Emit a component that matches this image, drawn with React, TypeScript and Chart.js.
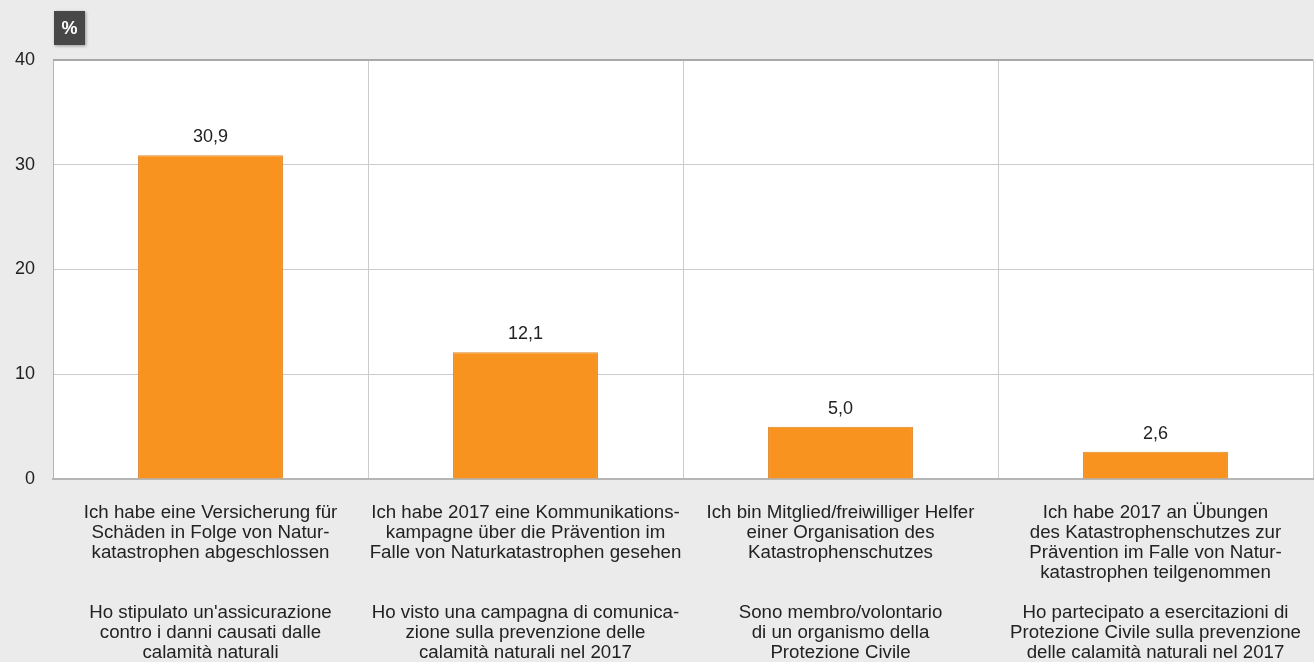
import React, { useEffect, useRef } from "react";
import { Chart, registerables } from "chart.js";

Chart.register(...registerables);

const categories: string[][] = [
  [
    "Ich habe eine Versicherung für",
    "Schäden in Folge von Natur-",
    "katastrophen abgeschlossen",
    "",
    "",
    "Ho stipulato un'assicurazione",
    "contro i danni causati dalle",
    "calamità naturali",
  ],
  [
    "Ich habe 2017 eine Kommunikations-",
    "kampagne über die Prävention im",
    "Falle von Naturkatastrophen gesehen",
    "",
    "",
    "Ho visto una campagna di comunica-",
    "zione sulla prevenzione delle",
    "calamità naturali nel 2017",
  ],
  [
    "Ich bin Mitglied/freiwilliger Helfer",
    "einer Organisation des",
    "Katastrophenschutzes",
    "",
    "",
    "Sono membro/volontario",
    "di un organismo della",
    "Protezione Civile",
  ],
  [
    "Ich habe 2017 an Übungen",
    "des Katastrophenschutzes zur",
    "Prävention im Falle von Natur-",
    "katastrophen teilgenommen",
    "",
    "Ho partecipato a esercitazioni di",
    "Protezione Civile sulla prevenzione",
    "delle calamità naturali nel 2017",
  ],
];

const values: number[] = [30.9, 12.1, 5.0, 2.6];
const yTicks: number[] = [0, 10, 20, 30, 40];
const unitLabel = "%";

const FONT = "'Liberation Sans', Arial, sans-serif";

const valueLabels = {
  id: "valueLabels",
  afterDatasetsDraw(chart: any) {
    const ctx = chart.ctx;
    const meta = chart.getDatasetMeta(0);
    ctx.save();
    ctx.font = `18px ${FONT}`;
    ctx.fillStyle = "#222";
    ctx.textAlign = "center";
    ctx.textBaseline = "middle";
    meta.data.forEach((bar: any, i: number) => {
      const txt = values[i].toFixed(1).replace(".", ",");
      ctx.fillText(txt, bar.x, bar.y - 18);
    });
    ctx.restore();
  },
};

const unitBadge = {
  id: "unitBadge",
  afterDraw(chart: any) {
    const ctx = chart.ctx;
    const left = chart.chartArea.left;
    ctx.save();
    ctx.shadowColor = "rgba(0,0,0,0.35)";
    ctx.shadowBlur = 3;
    ctx.shadowOffsetX = 1;
    ctx.shadowOffsetY = 1;
    ctx.fillStyle = "#474747";
    ctx.fillRect(left + 1, 11, 31, 34);
    ctx.shadowColor = "transparent";
    ctx.fillStyle = "#ffffff";
    ctx.font = `bold 18px ${FONT}`;
    ctx.textAlign = "center";
    ctx.textBaseline = "middle";
    ctx.fillText(unitLabel, left + 16.5, 29);
    ctx.restore();
  },
};

const plotBg = {
  id: "plotBg",
  beforeDraw(chart: any) {
    const { ctx, chartArea } = chart;
    ctx.save();
    ctx.fillStyle = "#ebebeb";
    ctx.fillRect(0, 0, chart.width, chart.height);
    ctx.fillStyle = "#ffffff";
    ctx.fillRect(chartArea.left, chartArea.top, chartArea.right - chartArea.left, chartArea.bottom - chartArea.top);
    ctx.restore();
  },
  afterDraw(chart: any) {
    const { ctx, chartArea } = chart;
    ctx.save();
    ctx.strokeStyle = "#a8a8a8";
    ctx.lineWidth = 2;
    ctx.beginPath();
    ctx.moveTo(chartArea.left, chartArea.top);
    ctx.lineTo(chartArea.right, chartArea.top);
    ctx.stroke();
    ctx.restore();
  },
};

export default function App() {
  const ref = useRef<HTMLCanvasElement | null>(null);

  useEffect(() => {
    if (!ref.current) return;
    const chart = new Chart(ref.current, {
      type: "bar",
      data: {
        labels: categories,
        datasets: [
          {
            data: values,
            backgroundColor: "#f7931e",
            borderColor: "#e0882a",
            borderWidth: 1,
            categoryPercentage: 1,
            barPercentage: 0.46,
          },
        ],
      },
      options: {
        animation: false,
        responsive: false,
        maintainAspectRatio: false,
        layout: { padding: { left: 0, right: 1, top: 60, bottom: 0 } },
        plugins: {
          legend: { display: false },
          tooltip: { enabled: false },
        },
        scales: {
          x: {
            grid: {
              offset: true,
              color: "#cccccc",
              lineWidth: 1,
              drawTicks: false,
            },
            border: { display: true, color: "#b5b5b5", width: 2 },
            ticks: {
              padding: 24,
              color: "#222",
              font: { family: FONT, size: 18.7, lineHeight: "20px" },
              maxRotation: 0,
              autoSkip: false,
            },
            afterFit: (scale: any) => {
              scale.height = 183;
              scale.paddingLeft = 0;
              scale.paddingRight = 0;
            },
          },
          y: {
            min: 0,
            max: 40,
            afterBuildTicks: (scale: any) => {
              scale.ticks = yTicks.map((v) => ({ value: v }));
            },
            grid: { color: "#cccccc", lineWidth: 1, drawTicks: false },
            border: { display: true, color: "#b5b5b5", width: 1 },
            ticks: {
              padding: 18,
              color: "#222",
              font: { family: FONT, size: 18 },
            },
            afterFit: (scale: any) => {
              scale.width = 53;
              scale.paddingTop = 0;
              scale.paddingBottom = 0;
            },
          },
        },
      },
      plugins: [plotBg, valueLabels, unitBadge],
    });
    return () => chart.destroy();
  }, []);

  return (
    <div style={{ position: "fixed", left: 0, top: 0, width: 1314, height: 662, background: "#ebebeb" }}>
      <canvas ref={ref} width={1314} height={662} style={{ display: "block" }} />
    </div>
  );
}
